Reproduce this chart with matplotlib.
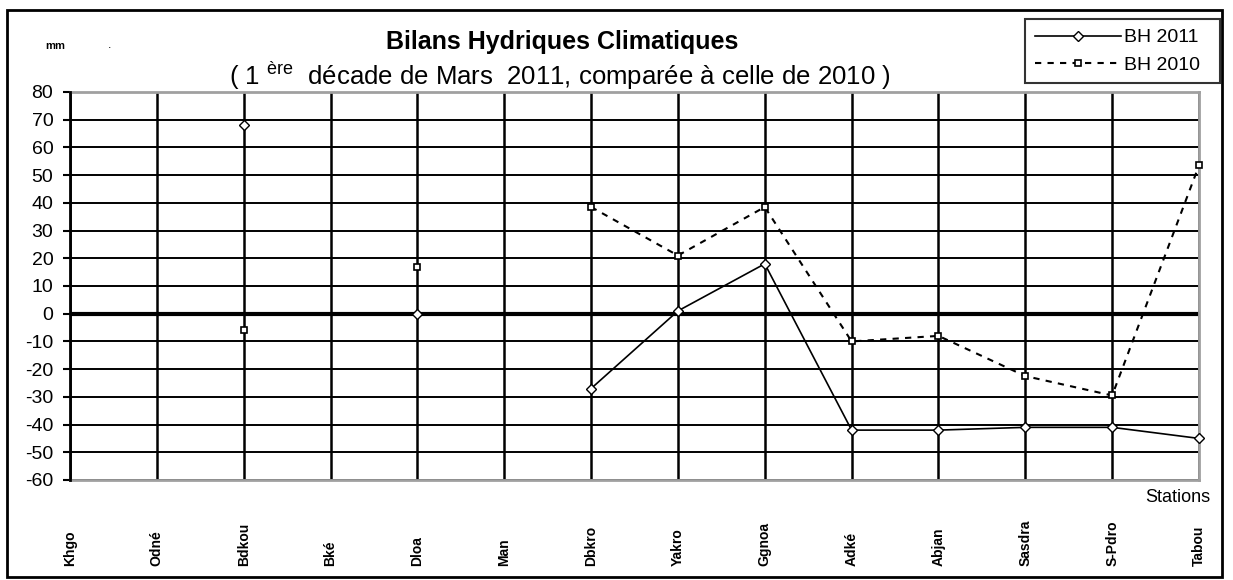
import numpy as np
import matplotlib
matplotlib.use("Agg")
import matplotlib.pyplot as plt
from matplotlib.patches import Rectangle

plt.rcParams['font.family'] = ['Liberation Sans', 'DejaVu Sans']
plt.rcParams['mathtext.fontset'] = 'custom'
plt.rcParams['mathtext.rm'] = 'Liberation Sans'
plt.rcParams['axes.unicode_minus'] = False

# Stations and water balances (mm), NaN = no value
stations = ["Khgo", "Odné", "Bdkou", "Bké", "Dloa", "Man", "Dbkro",
            "Yakro", "Ggnoa", "Adké", "Abjan", "Sasdra", "S-Pdro", "Tabou"]
bh_2011 = [np.nan, np.nan, 68, np.nan, 0, np.nan, -27,
           1, 18, -42, -42, -41, -41, -45]
bh_2010 = [np.nan, np.nan, -6, np.nan, 17, np.nan, 38.5,
           21, 38.5, -10, -8, -22.5, -29.5, 53.5]
y_ticks = list(range(-60, 81, 10))

W, H = 1233, 580
L, R, T, B = 70, 1199, 92, 480
fig = plt.figure(figsize=(W / 100, H / 100), dpi=100)
ax = fig.add_axes([L / W, 1 - B / H, (R - L) / W, (B - T) / H])

x = np.arange(len(stations))

# grid
for v in y_ticks:
    ax.axhline(v, color='black', lw=1.4, zorder=1)
for i in x:
    ax.axvline(i, color='black', lw=1.8, zorder=1)
ax.axhline(0, color='black', lw=3, zorder=2)

ax.plot(x, bh_2011, color='black', lw=1.2, marker='D', ms=5,
        mfc='white', mec='black', mew=1, label='BH 2011  ', zorder=4, clip_on=False)
ax.plot(x, bh_2010, color='black', lw=1.5, ls=(0, (3, 3)), marker='s', ms=5,
        mfc='white', mec='black', mew=1.2, label='BH 2010  ', zorder=4, clip_on=False)

ax.set_xlim(0, len(stations) - 1)
ax.set_ylim(-60, 80)
ax.set_yticks(y_ticks)
ax.set_xticks([])
ax.tick_params(axis='y', direction='out', length=5, width=1.5,
               labelsize=14, pad=7, colors='black')

for side in ('top', 'right', 'bottom'):
    ax.spines[side].set_color('#a0a0a0')
    ax.spines[side].set_linewidth(2)
ax.spines['left'].set_color('black')
ax.spines['left'].set_linewidth(2)
ax.spines['left'].set_zorder(3)

# station labels, bottom aligned
trans = ax.get_xaxis_transform()
y_lab = ((H - 566) / H - (1 - B / H)) / ((B - T) / H)
for i, name in enumerate(stations):
    ax.text(i, y_lab, name, rotation=90, ha='center', va='bottom',
            fontsize=10, fontweight='bold', transform=trans)

fig.text(1210 / W, 1 - 497 / H, "Stations", ha='right', va='center', fontsize=13)

# titles
fig.text(562 / W, 1 - 42 / H, "Bilans Hydriques Climatiques",
         ha='center', va='center', fontsize=18, fontweight='bold')
fig.text(560 / W, 1 - 76 / H,
         r"( 1 $^{\mathrm{ère}}$  décade de Mars  2011, comparée à celle de 2010 )",
         ha='center', va='center', fontsize=18.5)
fig.text(55 / W, 1 - 46 / H, "mm", ha='center', va='center', fontsize=8, fontweight='bold')
fig.text(110 / W, 1 - 45 / H, ".", ha='center', va='center', fontsize=9)

leg = fig.legend(loc='upper right', bbox_to_anchor=(1220 / W, 1 - 19 / H),
                 borderaxespad=0, frameon=True, fancybox=False, edgecolor='black',
                 fontsize=14, handlelength=4.4, handletextpad=0.15,
                 borderpad=0.5, labelspacing=0.5)
leg.get_frame().set_linewidth(1.5)

# outer frame
fig.patches.append(Rectangle((7 / W, 1 - 577 / H), (1222 - 7) / W, (577 - 10) / H,
                             transform=fig.transFigure, fill=False,
                             edgecolor='black', lw=2))

fig.savefig("out.png", dpi=100)
